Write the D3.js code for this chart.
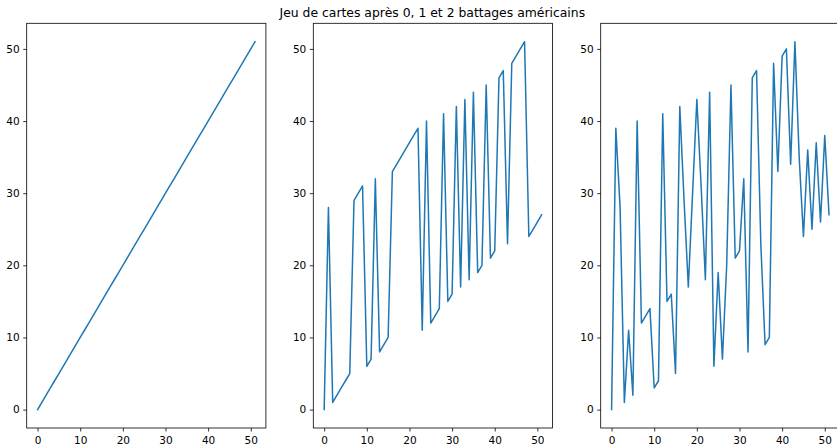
<!DOCTYPE html>
<html>
<head>
<meta charset="utf-8">
<script src="https://cdn.jsdelivr.net/npm/d3@7"></script>
<style>
  html, body { margin: 0; padding: 0; background: #fff; }
  svg { display: block; }
  text { font-family: "DejaVu Sans", sans-serif; fill: #000; }
</style>
</head>
<body>
<svg id="chart" width="837" height="446"></svg>
<script>
const title = "Jeu de cartes après 0, 1 et 2 battages américains";
const positions = d3.range(52);
const deck0 = d3.range(52);
const deck1 = [0,28,1,2,3,4,5,29,30,31,6,7,32,8,9,10,33,34,35,36,37,38,39,11,40,12,13,14,41,15,16,42,17,43,18,44,19,20,45,21,22,46,47,23,48,49,50,51,24,25,26,27];
const deck2 = [0,39,28,1,11,2,40,12,13,14,3,4,41,15,16,5,42,29,17,30,43,31,18,44,6,19,7,20,45,21,22,32,8,46,47,23,9,10,48,33,49,50,34,51,35,24,36,25,37,26,38,27];
const tickValues = [0,10,20,30,40,50];
const decks = [deck0, deck1, deck2];

const svg = d3.select("#chart");
const panelLefts = [26.7, 313.3, 600.7];
const panelW = 239.2, plotTop = 23.3, plotBottom = 428;
const color = "#1f77b4";

svg.append("text")
  .attr("x", 432.3).attr("y", 17)
  .attr("text-anchor", "middle")
  .style("font-size", "12.4px")
  .text(title);

decks.forEach((deck, i) => {
  const left = panelLefts[i];
  const x = d3.scaleLinear().domain([-2.55, 53.55]).range([left, left + panelW]);
  const y = d3.scaleLinear().domain([-2.55, 53.55]).range([plotBottom, plotTop]);
  const g = svg.append("g");

  const line = d3.line().x((d, j) => x(positions[j])).y(d => y(d));
  g.append("path").datum(deck)
    .attr("d", line)
    .attr("fill", "none")
    .attr("stroke", color)
    .attr("stroke-width", 1.5)
    .attr("stroke-linejoin", "round")
    .attr("stroke-linecap", "square");

  g.append("rect")
    .attr("x", left).attr("y", plotTop)
    .attr("width", panelW).attr("height", plotBottom - plotTop)
    .attr("fill", "none").attr("stroke", "#000").attr("stroke-width", 0.8);

  const xa = g.append("g").attr("transform", `translate(0,${plotBottom})`)
    .call(d3.axisBottom(x).tickValues(tickValues).tickSize(3.5).tickPadding(3.5).tickFormat(d3.format("d")));
  xa.select(".domain").remove();
  xa.selectAll(".tick line").attr("stroke", "#000").attr("stroke-width", 0.8);
  xa.selectAll(".tick text").style("font-size", "10.5px").attr("dy", "0.88em").style("fill", "#000");

  const ya = g.append("g").attr("transform", `translate(${left},0)`)
    .call(d3.axisLeft(y).tickValues(tickValues).tickSize(3.5).tickPadding(3.5).tickFormat(d3.format("d")));
  ya.select(".domain").remove();
  ya.selectAll(".tick line").attr("stroke", "#000").attr("stroke-width", 0.8);
  ya.selectAll(".tick text").style("font-size", "10.5px").style("fill", "#000");
});
</script>
</body>
</html>
